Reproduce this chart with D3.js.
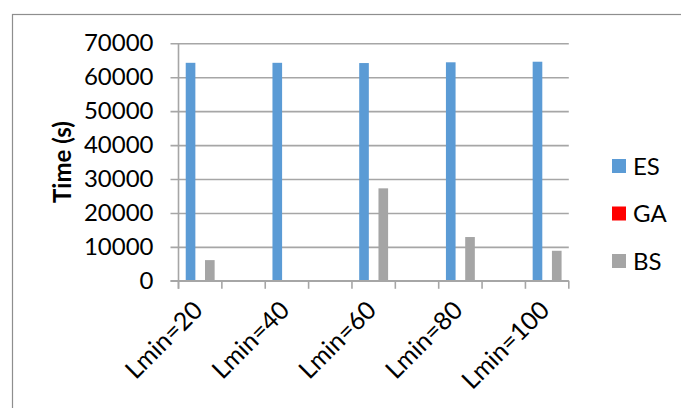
<!DOCTYPE html>
<html>
<head>
<meta charset="utf-8">
<script src="https://cdn.jsdelivr.net/npm/d3@7"></script>
<style>
  html, body { margin: 0; padding: 0; background: #fff; }
  svg { display: block; }
  text { font-family: Lato, "Open Sans", sans-serif; fill: #000; }
</style>
</head>
<body>
<svg id="chart" width="681" height="408"></svg>
<script>
// Category slots along the x axis (blank slots separate the groups)
const categories = ["Lmin=20", "", "Lmin=40", "", "Lmin=60", "", "Lmin=80", "", "Lmin=100"];
const seriesNames = ["ES", "GA", "BS"];
const esTime = [64250, null, 64250, null, 64180, null, 64400, null, 64570];
const gaTime = [150, null, 150, null, 150, null, 150, null, 150];
const bsTime = [6100, null, 50, null, 27250, null, 12900, null, 8850];
const yTicks = [0, 10000, 20000, 30000, 40000, 50000, 60000, 70000];
const seriesColors = ["#5b9bd5", "#ff0000", "#a5a5a5"];

const seriesValues = [esTime, gaTime, bsTime];

const svg = d3.select("#chart");
svg.append("rect").attr("width", 681).attr("height", 408).attr("fill", "#fff");

// Outer chart frame
svg.append("rect")
  .attr("x", 12.5).attr("y", 14.5)
  .attr("width", 700).attr("height", 420)
  .attr("fill", "none").attr("stroke", "#8e8e8e").attr("stroke-width", 1.2);

const plot = { left: 178.5, right: 568.8, top: 43.3, bottom: 280.8 };

const x = d3.scaleBand()
  .domain(d3.range(categories.length))
  .range([plot.left, plot.right])
  .paddingInner(0).paddingOuter(0);

const xSub = d3.scaleBand()
  .domain(seriesNames)
  .range([0, x.bandwidth()])
  .paddingInner(0).paddingOuter(0.75);

const y = d3.scaleLinear().domain([0, 70000]).range([plot.bottom, plot.top]);

const gridColor = "#a6a6a6";

// Horizontal gridlines, extending left of the axis as tick marks
const yAxis = d3.axisLeft(y).tickValues(yTicks)
  .tickSize(-(plot.right - plot.left + 8)).tickPadding(18)
  .tickFormat(d3.format("d"));
const gy = svg.append("g").attr("transform", `translate(${plot.left - 8},0)`).call(yAxis);
gy.select(".domain").remove();
gy.selectAll(".tick line").attr("stroke", gridColor).attr("stroke-width", 1.6);
gy.selectAll(".tick text")
  .attr("x", -17).attr("font-size", 24).attr("fill", "#000")
  .style("font-family", "Lato, 'Open Sans', sans-serif");

// Vertical axis line
svg.append("line")
  .attr("x1", plot.left).attr("x2", plot.left)
  .attr("y1", plot.top).attr("y2", plot.bottom + 8)
  .attr("stroke", gridColor).attr("stroke-width", 1.6);

// Category boundary ticks on the x axis
const boundaries = d3.range(categories.length + 1).map(i => plot.left + i * x.step());
svg.append("g").selectAll("line").data(boundaries).join("line")
  .attr("x1", d => d).attr("x2", d => d)
  .attr("y1", plot.bottom).attr("y2", plot.bottom + 8)
  .attr("stroke", gridColor).attr("stroke-width", 1.6);

// Bars
const bars = [];
categories.forEach((c, i) => {
  seriesNames.forEach((s, k) => {
    const v = seriesValues[k][i];
    if (v != null) bars.push({ i, s, k, v });
  });
});
svg.append("g").selectAll("rect").data(bars).join("rect")
  .attr("x", d => x(d.i) + xSub(d.s))
  .attr("width", xSub.bandwidth())
  .attr("y", d => y(d.v))
  .attr("height", d => y(0) - y(d.v))
  .attr("fill", d => seriesColors[d.k]);

// Baseline drawn over bar bottoms
svg.append("line")
  .attr("x1", plot.left - 8).attr("x2", plot.right)
  .attr("y1", plot.bottom).attr("y2", plot.bottom)
  .attr("stroke", gridColor).attr("stroke-width", 1.6);

// Rotated category labels
svg.append("g").selectAll("text")
  .data(categories.map((c, i) => ({ c, i })).filter(d => d.c !== ""))
  .join("text")
  .attr("transform", d => `translate(${x(d.i) + x.bandwidth() / 2 + 4},${plot.bottom + 31}) rotate(-45)`)
  .attr("text-anchor", "end")
  .attr("font-size", 25)
  .text(d => d.c);

// Y axis title
svg.append("text")
  .attr("transform", `translate(71,${(plot.top + plot.bottom) / 2}) rotate(-90)`)
  .attr("text-anchor", "middle")
  .attr("font-size", 24).attr("font-weight", "bold")
  .text("Time (s)");

// Legend
const legend = svg.append("g").selectAll("g").data(seriesNames).join("g")
  .attr("transform", (d, i) => `translate(612,${159 + i * 47.5})`);
legend.append("rect").attr("width", 14).attr("height", 14)
  .attr("fill", (d, i) => seriesColors[i]);
legend.append("text").attr("x", 21).attr("y", 15.5)
  .attr("font-size", 24).text(d => d);
</script>
</body>
</html>
